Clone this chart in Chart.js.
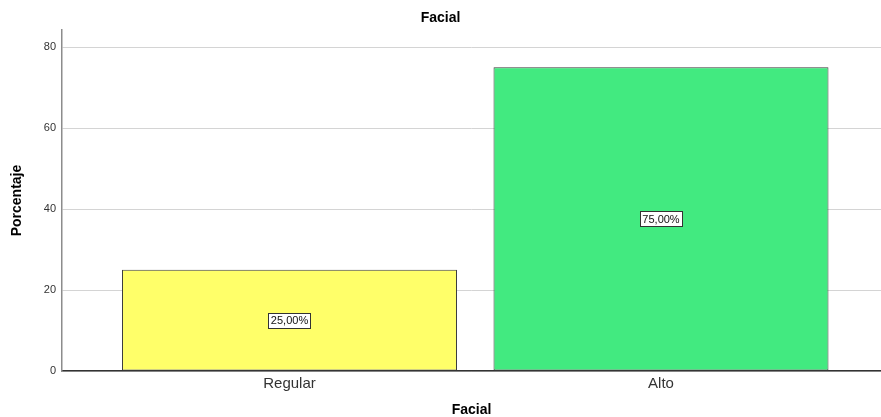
<!DOCTYPE html>
<html>
<head>
<meta charset="utf-8">
<script src="https://cdn.jsdelivr.net/npm/chart.js@4/dist/chart.umd.min.js"></script>
<style>
  body { margin: 0; background: #fff; }
  canvas { display: block; }
</style>
</head>
<body>
<canvas id="facialchart" width="881" height="417"></canvas>
<script>
// data
const categories = ["Regular", "Alto"];
const values = [25, 75];
const valueLabels = ["25,00%", "75,00%"];
const barColors = ["#FFFF69", "#42EA80"];
const yTicks = [0, 20, 40, 60, 80];

// draws the little boxed percentage in the middle of each bar
const boxLabels = {
  id: "boxLabels",
  afterDatasetsDraw(chart) {
    const ctx = chart.ctx;
    const meta = chart.getDatasetMeta(0);
    ctx.save();
    ctx.font = "11px 'Liberation Sans', Arial, sans-serif";
    ctx.textAlign = "center";
    ctx.textBaseline = "middle";
    meta.data.forEach((bar, i) => {
      const txt = valueLabels[i];
      const cx = bar.x;
      const cy = (bar.y + bar.base) / 2;
      const w = ctx.measureText(txt).width + 5;
      const h = 15;
      ctx.fillStyle = "#fff";
      ctx.fillRect(Math.round(cx - w / 2) + 0.5, Math.round(cy - h / 2) + 0.5, Math.round(w), h);
      ctx.strokeStyle = "#333";
      ctx.lineWidth = 1;
      ctx.strokeRect(Math.round(cx - w / 2) + 0.5, Math.round(cy - h / 2) + 0.5, Math.round(w), h);
      ctx.fillStyle = "#111";
      ctx.fillText(txt, cx, cy + 1);
    });
    ctx.restore();
  }
};

const mychart = document.getElementById("facialchart");
const facialchart = new Chart(mychart, {
  type: "bar",
  data: {
    datasets: [{
      label: "Porcentaje",
      data: categories.map((c, i) => ({ x: i + 1, y: values[i] })),
      backgroundColor: barColors,
      borderColor: "#3c3c3c",
      borderWidth: 1,
      borderSkipped: false,
      categoryPercentage: 1,
      barPercentage: 0.9017
    }]
  },
  options: {
    responsive: false,
    animation: false,
    devicePixelRatio: 1,
    layout: { padding: 0 },
    plugins: {
      legend: { display: false },
      tooltip: { enabled: false },
      title: {
        display: true,
        text: "Facial",
        color: "#000",
        font: { family: "'Liberation Sans', Arial, sans-serif", size: 14, weight: "bold", lineHeight: 1.2 },
        padding: { top: 10, bottom: 3.2 }
      }
    },
    scales: {
      x: {
        type: "linear",
        offset: false,
        min: 0.3876,
        max: 2.5922,
        afterFit: (scale) => { scale.height = 46; },
        afterBuildTicks: (scale) => {
          scale.ticks = categories.map((c, i) => ({ value: i + 1 }));
        },
        grid: { display: false, drawTicks: false },
        border: { display: true, color: "#333", width: 1.5 },
        ticks: {
          padding: 3.5,
          color: "#333",
          font: { family: "'Liberation Sans', Arial, sans-serif", size: 15 },
          callback: (v) => categories[v - 1]
        },
        title: {
          display: true,
          text: "Facial",
          color: "#000",
          font: { family: "'Liberation Sans', Arial, sans-serif", size: 14, weight: "bold", lineHeight: 1 },
          padding: { top: 0, bottom: 0 }
        }
      },
      y: {
        min: 0,
        max: 84.2,
        afterFit: (scale) => { scale.width = 62; },
        afterBuildTicks: (scale) => {
          scale.ticks = yTicks.map(v => ({ value: v }));
        },
        grid: { color: "#d4d4d4", lineWidth: 1, drawTicks: false },
        border: { display: true, color: "#8c8c8c", width: 1.5 },
        ticks: {
          padding: 6,
          color: "#333",
          font: { family: "'Liberation Sans', Arial, sans-serif", size: 11 }
        },
        title: {
          display: true,
          text: "Porcentaje",
          color: "#000",
          font: { family: "'Liberation Sans', Arial, sans-serif", size: 14, weight: "bold", lineHeight: 1.2 },
          padding: { top: 9, bottom: 0 }
        }
      }
    }
  },
  plugins: [boxLabels]
});
</script>
</body>
</html>
